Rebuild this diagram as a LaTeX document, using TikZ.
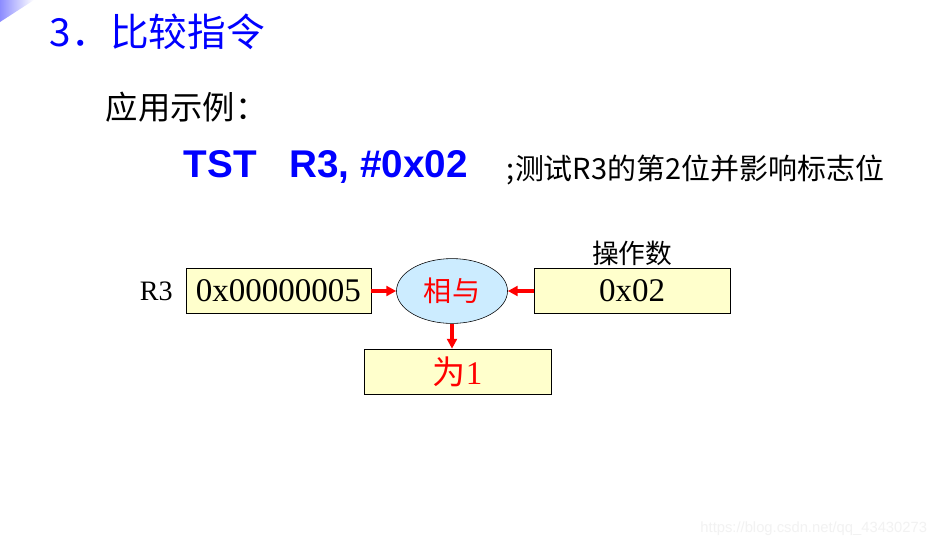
\documentclass[tikz,border=0pt]{standalone}
\usepackage{fontspec}
\setmainfont{Liberation Serif}
\newfontfamily\cjkfont{Noto Sans CJK SC}
\newfontfamily\codefont{Liberation Sans}
\usepackage{xcolor}
\definecolor{titleblue}{HTML}{0000FF}
\definecolor{boxyellow}{HTML}{FFFFCC}
\definecolor{andblue}{HTML}{CCECFF}
\definecolor{flagred}{HTML}{FF0000}
\usetikzlibrary{arrows.meta, shapes.geometric, positioning}

\begin{document}
\begin{tikzpicture}[x=0.025cm, y=-0.025cm, >={Triangle[length=7pt, width=7pt]},
    regbox/.style={draw=black, thin, fill=boxyellow, minimum height=1.125cm,
                   inner sep=0pt, font=\fontsize{23.5}{26}\selectfont},
    andop/.style={ellipse, draw=black, thin, fill=andblue, minimum width=2.775cm,
                  minimum height=1.62cm, inner sep=0pt, text=flagred,
                  font=\cjkfont\fontsize{20}{22}\selectfont},
    flow/.style={->, draw=flagred, line width=2.2pt}]

  \useasboundingbox (0,0) rectangle (940,548);
  \fill[white] (0,0) rectangle (940,548);
  \shade[left color=titleblue!45, right color=white] (0,0) -- (34,0) -- (0,22) -- cycle;

  % heading and example line
  \node[anchor=west, text=titleblue, font=\cjkfont\fontsize{27.5}{30}\selectfont] (title)
    at (45,32) {3．比较指令};
  \node[anchor=west, font=\cjkfont\fontsize{23}{26}\selectfont] (example)
    at (101,107) {应用示例：};
  \node[anchor=west, text=titleblue, font=\codefont\bfseries\fontsize{27.5}{30}\selectfont] (instr)
    at (179,167) {TST~~~R3, \#0x02};
  \node[anchor=west, font=\cjkfont\fontsize{20.6}{23}\selectfont] (comment)
    at (502,170) {;测试R3的第2位并影响标志位};

  % the and operation
  \node[andop] (and) at (452,291) {相与};
  \node[regbox, minimum width=4.625cm, left=0.625cm of and] (reg) {0x00000005};
  \node[regbox, minimum width=4.9cm, right=0.65cm of and] (imm) {0x02};
  \node[regbox, minimum width=4.675cm, below=0.625cm of and, xshift=0.14cm,
        text=flagred] (res) {{\cjkfont 为}1};

  \node[left=0.2cm of reg, font=\fontsize{20}{22}\selectfont] (rname) {R3};
  \node[above=-0.05cm of imm, font=\cjkfont\fontsize{19}{21}\selectfont] (immname) {操作数};

  \draw[flow] (reg) -- (and);
  \draw[flow] (imm) -- (and);
  \draw[flow] (and.south) -- (and.south |- res.north);

  \node[anchor=east, text=gray!10, font=\codefont\fontsize{10.5}{12}\selectfont] (mark)
    at (932,529) {https://blog.csdn.net/qq\_43430273};

\end{tikzpicture}
\end{document}
